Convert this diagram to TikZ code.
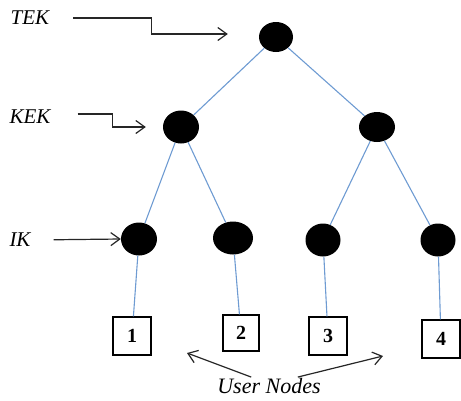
\documentclass[tikz,border=0pt]{standalone}
\usepackage{fontspec}
\setmainfont{Liberation Serif}
\usetikzlibrary{shapes.geometric, arrows.meta, positioning}
\definecolor{edgeblue}{RGB}{110,155,210}
\tikzset{
  keytree/.style={
	x=1pt, y=-1pt, % one unit is one pixel of the sketch
	every node/.style={font=\fontsize{21}{24}\selectfont},
  },
  keynode/.style={ellipse, fill=black, inner sep=0pt, minimum width=36pt, minimum height=33pt}, % the black key nodes
  usernode/.style={draw=black, line width=1.1pt, fill=white, minimum size=38pt, inner sep=0pt, font=\fontsize{20}{24}\selectfont\bfseries},
  levellabel/.style={font=\fontsize{21}{24}\selectfont\itshape, inner sep=2pt},
  treeedge/.style={draw=edgeblue, line width=1.1pt},
  pointer/.style={draw=black!85, line width=1.2pt, -{Straight Barb[length=9pt,width=13pt]}},
}
\begin{document}
\begin{tikzpicture}[keytree]
	  \useasboundingbox (0,0) rectangle (461,400);

	  % key nodes
	  \node[keynode, minimum width=34pt, minimum height=30pt] (root) at (276,37) {};
	  \node[keynode] (kekl) at (181,127) {};
	  \node[keynode, minimum height=30pt] (kekr) at (377,127) {};
	  \node[keynode] (ika) at (139,239) {};
	  \node[keynode, minimum width=40pt] (ikb) at (233,238) {};
	  \node[keynode, minimum width=35pt] (ikc) at (323,240) {};
	  \node[keynode, minimum width=35pt] (ikd) at (438,240) {};

	  % user nodes
	  \node[usernode] (ua) at (132,336) {1};
	  \node[usernode, minimum size=36pt] (ub) at (241,333) {2};
	  \node[usernode] (uc) at (328,336) {3};
	  \node[usernode] (ud) at (441,339) {4};

	  \draw[treeedge] (root) -- (kekl)
		  (root) -- (kekr)
		  (kekl) -- (ika)
		  (kekl) -- (ikb)
		  (kekr) -- (ikc)
		  (kekr) -- (ikd)
		  (ika) -- (ua)
		  (ikb) -- (ub)
		  (ikc) -- (uc)
		  (ikd) -- (ud)
	  ;

	  % level labels
	  \node[levellabel] (tek) at (30,18) {TEK};
	  \node[levellabel] (kek) at (30,117) {KEK};
	  \node[levellabel] (ik) at (20,240) {IK};
	  \node[levellabel, font=\fontsize{22}{24}\selectfont\itshape] (users) at (269,386) {User Nodes};

	  \draw[pointer, shorten <=22pt, shorten >=31pt] (tek.east) -- ++(100,0) |- ([yshift=3pt]root.west);
	  \draw[pointer, shorten <=25pt, shorten >=17pt] ([yshift=3pt]kek.east) -- ++(60,0) |- (kekl.west);
	  \draw[pointer, shorten <=21pt] (ik.east) -- (ika.west);
	  \coordinate (ul) at (187,353);
	  \coordinate (ur) at (383,356);
	  \draw[pointer] ([xshift=36pt, yshift=-1pt]users.north west) -- (ul);
	  \draw[pointer] ([xshift=-25pt, yshift=-1pt]users.north east) -- (ur);
\end{tikzpicture}
\end{document}
